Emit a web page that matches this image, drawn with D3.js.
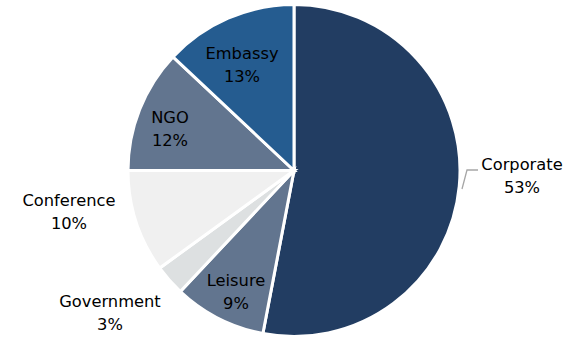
<!DOCTYPE html>
<html><head><meta charset="utf-8">
<script src="https://cdn.jsdelivr.net/npm/d3@7"></script>
<style>body{margin:0;background:#fff}svg{display:block}</style>
</head><body>
<script>
const categories = ["Corporate","Leisure","Government","Conference","NGO","Embassy"];
const values = [53, 9, 3, 10, 12, 13];
const colors = ["#223d62","#62758f","#dde0e1","#f0f0f0","#62758f","#255c90"];
// label positions (centre x, first-line baseline y)
const labelPos = [[522,170],[236,286],[110,307],[69,206],[170,123],[242,59]];

const W=564,H=339, cx=294, cy=170.5, R=166;
const svg=d3.select("body").append("svg").attr("width",W).attr("height",H);
const g=svg.append("g").attr("transform",`translate(${cx},${cy})`);
const pie=d3.pie().sort(null).value(d=>d.v);
const data=pie(categories.map((c,i)=>({c,v:values[i],col:colors[i]})));
const arc=d3.arc().innerRadius(0).outerRadius(R);
g.selectAll("path").data(data).enter().append("path")
  .attr("d",arc).attr("fill",d=>d.data.col)
  .attr("stroke","#fff").attr("stroke-width",3).attr("stroke-linejoin","miter");

// leader line for Corporate
svg.append("polyline").attr("points","462,189 467,170 478,170")
  .attr("fill","none").attr("stroke","#a6a6a6").attr("stroke-width",1.3);

const lab=svg.append("g").attr("font-family","DejaVu Sans, Verdana, sans-serif")
  .attr("font-size",16.3).attr("fill","#000").attr("text-anchor","middle");
data.forEach((d,i)=>{
  const [x,y]=labelPos[i];
  lab.append("text").attr("x",x).attr("y",y).text(d.data.c);
  lab.append("text").attr("x",x).attr("y",y+22.5).text(d.data.v+"%");
});
</script>
</body></html>
